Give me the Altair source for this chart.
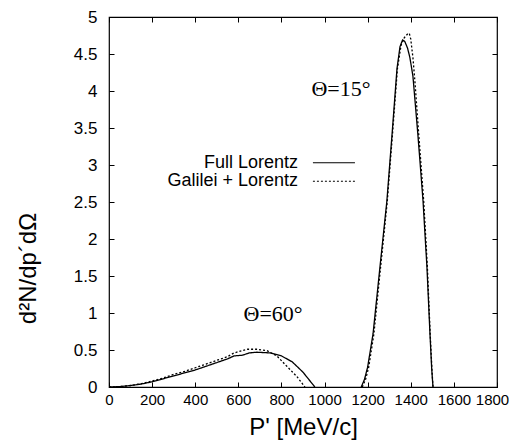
import altair as alt
import pandas as pd

# ---- data ----
p60_full = [0, 50, 100, 150, 200, 250, 300, 350, 400, 450, 500, 550, 580, 620, 650, 685, 750, 800, 850, 900, 955]
v60_full = [0, 0.005, 0.02, 0.04, 0.07, 0.11, 0.15, 0.19, 0.23, 0.28, 0.33, 0.38, 0.42, 0.43, 0.46, 0.47, 0.46, 0.42, 0.34, 0.20, 0.0]

p60_gal = [0, 50, 100, 150, 200, 250, 300, 350, 400, 450, 500, 550, 580, 640, 685, 733, 779, 825, 872, 909]
v60_gal = [0, 0.005, 0.02, 0.045, 0.08, 0.12, 0.17, 0.21, 0.26, 0.31, 0.36, 0.41, 0.46, 0.51, 0.51, 0.49, 0.42, 0.28, 0.14, 0.0]

p15_full = [1170, 1185, 1200, 1225, 1257, 1289, 1313, 1336, 1350, 1362, 1372, 1385, 1396, 1410, 1433, 1457, 1475, 1489, 1497, 1503]
v15_full = [0, 0.1, 0.27, 0.72, 1.62, 2.51, 3.41, 4.3, 4.6, 4.69, 4.67, 4.58, 4.45, 4.2, 3.41, 2.51, 1.62, 0.72, 0.25, 0.0]

p15_gal = [1175, 1190, 1205, 1229, 1260, 1291, 1315, 1338, 1355, 1370, 1385, 1393, 1400, 1410, 1420, 1437, 1460, 1477, 1490, 1498, 1503]
v15_gal = [0, 0.1, 0.27, 0.72, 1.62, 2.51, 3.41, 4.3, 4.62, 4.72, 4.77, 4.78, 4.7, 4.45, 4.1, 3.41, 2.51, 1.62, 0.72, 0.25, 0.0]

series_names = ["Full Lorentz", "Galilei + Lorentz"]
x_ticks = [0, 200, 400, 600, 800, 1000, 1200, 1400, 1600, 1800]
y_ticks = [0, 0.5, 1, 1.5, 2, 2.5, 3, 3.5, 4, 4.5, 5]

annot_text = ["\u0398=15\u00b0", "\u0398=60\u00b0"]
annot_p = [1076, 761]
annot_v = [4.03, 0.99]

legend_text_p = [877, 877]
legend_v = [3.03, 2.78]
legend_line_p = [946, 1141]

# ---- build tables ----
rows = []
for ps, vs, s, c in [(p60_full, v60_full, series_names[0], "a"),
                     (p60_gal, v60_gal, series_names[1], "b"),
                     (p15_full, v15_full, series_names[0], "c"),
                     (p15_gal, v15_gal, series_names[1], "d")]:
    for i, (p, v) in enumerate(zip(ps, vs)):
        rows.append({"P": p, "V": v, "series": s, "curve": c, "order": i})
df = pd.DataFrame(rows)

ann = pd.DataFrame({"text": annot_text, "P": annot_p, "V": annot_v})
leg = pd.DataFrame({"text": series_names, "P": legend_text_p, "V": legend_v,
                    "P1": [legend_line_p[0]] * 2, "P2": [legend_line_p[1]] * 2})

xscale = alt.Scale(domain=[0, 1800], nice=False, zero=False)
yscale = alt.Scale(domain=[0, 5], nice=False)
dash = alt.Scale(domain=series_names, range=[[1, 0], [2, 2]])

SANS = "Liberation Sans"
SERIF = "Liberation Serif"

axis_common = dict(offset=-5, tickSize=5, domain=False, grid=False,
                   tickColor="black", labelColor="black", labelFont=SANS,
                   titleFont=SANS, titleFontSize=24,
                   titleFontWeight="normal", titleColor="black",
                   labelOverlap=False, labelFlush=False)

last_x = "datum.value == 1800"
x_axis = alt.Axis(values=x_ticks, orient="bottom", labelPadding=5, format="d",
                  labelFontSize=15,
                  labelOffset={"condition": {"test": last_x, "value": -5}, "value": 0},
                  title="P' [MeV/c]", titleX=194, titleY=45,
                  titleBaseline="middle", titleAlign="center", **axis_common)
y_axis = alt.Axis(values=y_ticks, orient="left", labelPadding=12, format="~g",
                  labelFontSize=17,
                  title="d\u00b2N/dp\u00b4d\u03a9", titleX=-86, titleY=251,
                  titleAngle=-90, titleBaseline="middle", titleAlign="center",
                  **axis_common)
x_axis_top = alt.Axis(values=x_ticks, orient="top", labels=False, title=None,
                      **axis_common)
y_axis_right = alt.Axis(values=y_ticks, orient="right", labels=False, title=None,
                        **axis_common)

lines = alt.Chart(df).mark_line(color="black", strokeWidth=1.3).encode(
    x=alt.X("P:Q", scale=xscale, axis=x_axis),
    y=alt.Y("V:Q", scale=yscale, axis=y_axis),
    strokeDash=alt.StrokeDash("series:N", scale=dash, legend=None),
    detail="curve:N",
    order="order:Q",
)

mirror = alt.Chart(df).mark_point(opacity=0).encode(
    x=alt.X("P:Q", scale=xscale, axis=x_axis_top),
    y=alt.Y("V:Q", scale=yscale, axis=y_axis_right),
)

annots = alt.Chart(ann).mark_text(font=SERIF, fontSize=22, color="black",
                                  align="center", baseline="middle").encode(
    x=alt.X("P:Q", scale=xscale, axis=None),
    y=alt.Y("V:Q", scale=yscale, axis=None),
    text="text:N",
)

leg_text = alt.Chart(leg).mark_text(font=SANS, fontSize=18, color="black",
                                    align="right", baseline="middle").encode(
    x=alt.X("P:Q", scale=xscale, axis=None),
    y=alt.Y("V:Q", scale=yscale, axis=None),
    text="text:N",
)

leg_lines = alt.Chart(leg).mark_rule(color="black", strokeWidth=1.1).encode(
    x=alt.X("P1:Q", scale=xscale, axis=None),
    x2="P2:Q",
    y=alt.Y("V:Q", scale=yscale, axis=None),
    strokeDash=alt.StrokeDash("text:N", scale=dash, legend=None),
)

chart = alt.layer(lines, mirror, annots, leg_text, leg_lines).resolve_axis(
    x="independent", y="independent"
).properties(
    width=388, height=370,
    padding={"left": 101, "top": 9, "right": 12, "bottom": 56},
    autosize=alt.AutoSizeParams(type="none"),
    background="white",
).configure_view(stroke="black", strokeWidth=1.2)

chart.save("out.html", embed_options={"renderer": "svg", "actions": False})
